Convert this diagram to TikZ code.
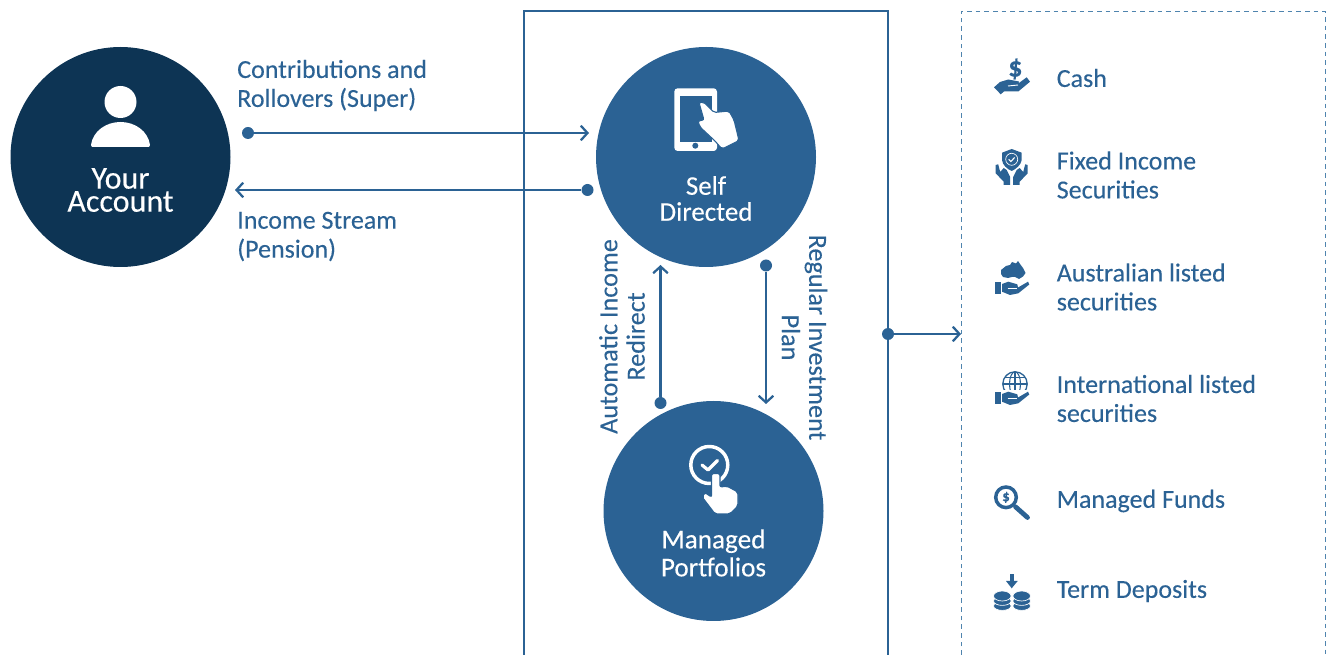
\documentclass[tikz,border=0pt]{standalone}
\usepackage{fontspec}
\setmainfont{Carlito}[FakeBold=0.25]
\usetikzlibrary{arrows.meta}
\definecolor{navy}{HTML}{0D3454}
\definecolor{steel}{HTML}{2B6294}
\definecolor{dashgrey}{HTML}{4F84AE}
\tikzstyle{bigcirc}=[circle,inner sep=0pt,minimum size=165pt]
\tikzstyle{dot}=[circle,fill=steel,inner sep=0pt,minimum size=9pt]
\tikzstyle{link}=[steel,line width=1.7pt,-{Straight Barb[length=5pt,width=11pt,line width=1.7pt]}]
\tikzstyle{sidetext}=[steel,align=left,anchor=west,inner sep=0pt,font=\fontsize{19.5}{21.7}\selectfont]
\tikzstyle{turntext}=[steel,align=center,inner sep=0pt,font=\fontsize{19.6}{20.5}\selectfont]
\tikzstyle{incircle}=[white,align=center,inner sep=0pt,font=\fontsize{20.2}{19.5}\selectfont]
\tikzstyle{iconfill}=[fill=steel]
\newcommand{\giveHand}[1]{
	\fill[iconfill,shift={(0,#1)}] (995,281.7) rectangle (1000.7,294.3);
	\fill[iconfill,shift={(0,#1)}] (1002,284) -- (1008.3,281.7) -- (1017.3,284.3) -- (1018,287.5) -- (1028,281.7) -- (1029.3,284.5) -- (1018.3,293.3) -- (1010,295) -- (1002,291.7) -- cycle;
	\draw[white,line width=.7pt,shift={(0,#1)}] (1007.5,288.2) -- (1017,288.2);
}
\begin{document}
\begin{tikzpicture}[x=.75pt,y=-.75pt]
	\useasboundingbox (0,0) rectangle (1332,655);
	% frames
	\draw[steel,line width=1.9pt] (524,655) -- (524,11) -- (888,11) -- (888,655);
	\draw[dashgrey,line width=.7pt,dash pattern=on 3.5pt off 3pt] (961,655) -- (961,11) -- (1325,11) -- (1325,655);
	\coordinate (listedge) at (961,334);
	% the three circles
	\node[bigcirc,fill=navy] (account) at (120.5,157) {};
	\node[bigcirc,fill=steel] (selfdir) at (706,157) {};
	\node[bigcirc,fill=steel] (managed) at (713.5,511) {};
	\node[incircle,font=\fontsize{24}{17.3}\selectfont] (accountlab) at (120.5,190) {Your\\Account};
	\node[incircle] (selflab) at (706,198.5) {Self\\Directed};
	\node[incircle,font=\fontsize{20.4}{21}\selectfont] (managedlab) at (713.5,553) {Managed\\Portfolios};
	% connectors
	\node[dot] (conta) at (248,133) {};
	\coordinate (contb) at (589,133);
	\node[dot] (inca) at (587.5,190) {};
	\coordinate (incb) at (235,190);
	\node[dot] (autoa) at (660.5,403) {};
	\coordinate (autob) at (660.5,265);
	\node[dot] (rega) at (766,265.5) {};
	\coordinate (regb) at (766,404);
	\node[dot] (framedot) at (888,334) {};
	\draw[link] (conta) -- (contb);
	\draw[link] (inca) -- (incb);
	\draw[link] (autoa) -- (autob);
	\draw[link] (rega) -- (regb);
	\draw[link] (framedot) -- (listedge);
	% labels
	\node[sidetext] (contlab) at (237,85.5) {Contributions and\\Rollovers (Super)};
	\node[sidetext] (inclab) at (237,236.5) {Income Stream\\(Pension)};
	\node[turntext,rotate=90] (autolab) at (622,336.5) {Automatic Income\\Redirect};
	\node[turntext,rotate=-90] (reglab) at (804.5,337.5) {Regular Investment\\Plan};
	\node[sidetext] (cashlab) at (1056.5,78) {Cash};
	\node[sidetext] (fixedlab) at (1056.5,175) {Fixed Income\\Securities};
	\node[sidetext] (auslab) at (1056.5,287) {Australian listed\\securities};
	\node[sidetext] (intlab) at (1056.5,398.5) {International listed\\securities};
	\node[sidetext] (fundslab) at (1056.5,501) {Managed Funds};
	\node[sidetext] (termlab) at (1056.5,591) {Term Deposits};
	% person
	\fill[white] (120.5,102) circle (16);
	\fill[white] (91,145) .. controls (93,131) and (106,122) .. (120.5,122) .. controls (135,122) and (148,131) .. (150,145) .. controls (150,146.5) and (149,147) .. (148,147) -- (93,147) .. controls (92,147) and (91,146.5) .. (91,145) -- cycle;
	% tablet
	\fill[white,rounded corners=2.5pt] (674.3,88.3) rectangle (717,151);
	\fill[steel] (679.5,96) rectangle (712,142.5);
	\fill[steel] (695.3,145.7) circle (3);
	\draw[steel,line width=.8pt,fill=white,rounded corners=1.5pt] (699,102.5) -- (703.5,102) -- (714,112.5) -- (729,111) -- (734,120) -- (739,140.5) -- (722,149) -- (715,141) -- (700,127) -- (698,121) -- (704,120) -- cycle;
	% pointing hand and ring
	\draw[white,line width=2.6pt] (709.3,465) circle (18.5);
	\draw[white,line width=2.4pt,line cap=round,line join=round] (702,465) -- (708,470) -- (717.5,460.5);
	\draw[steel,line width=1pt,fill=white,rounded corners=1.5pt] (711.5,473.5) -- (720,473.5) -- (720,487) -- (727,486) -- (738,492) -- (738,506) -- (730,514) -- (715,514) -- (702,497) -- (705,492.5) -- (711.5,497) -- cycle;
	% cash icon
	\node[steel,inner sep=0pt,font=\fontsize{21}{21}\bfseries\selectfont] (cashsign) at (1015.3,69) {\$};
	\fill[iconfill] (994,87.3) -- (1000.7,94.3) -- (1004,91.5) -- (1018.3,91.5) -- (1030,81.7) -- (1026.7,77.3) -- (1018.5,83.3) -- (1019,81.5) -- (1008.3,79.5) -- (1000,82) -- cycle;
	\draw[white,line width=.7pt] (1008,86) -- (1018,85);
	% shield icon
	\fill[iconfill] (1002,152.7) -- (1011.7,149) -- (1021.7,152.7) -- (1021.7,160) .. controls (1021,165) and (1016,169) .. (1011.7,171) .. controls (1007,169) and (1002.5,165) .. (1002,160) -- cycle;
	\draw[white,line width=.5pt] (1011.7,159.3) circle (6);
	\draw[white,line width=.8pt] (1008.7,159.3) -- (1010.8,161.5) -- (1014.7,157.5);
	\foreach \sx in {1,-1}{
		\fill[iconfill,shift={(1011.7,0)},xscale=\sx] (-16,165) -- (-13.5,164.3) -- (-11.5,172) -- (-8,168) -- (-5,170) -- (-1.5,177) -- (-1.5,185) -- (-8,185) -- (-8,181.7) -- (-16,173.3) -- cycle;
	}
	% australia icon
	\fill[iconfill] (1001,270) -- (1006,266) -- (1010,265) -- (1012,262) -- (1016,263.5) -- (1018,261) -- (1020,264) -- (1023,268) -- (1025.5,273) -- (1023,276.5) -- (1019,279) -- (1015,277) -- (1012,277) -- (1008,278) -- (1003,277) -- (1001,274) -- cycle;
	\giveHand{0}
	% globe icon
	\begin{scope}
		\clip (1000,370) rectangle (1030,390);
		\draw[steel,line width=1pt] (1015,384) circle (12.2);
		\draw[steel,line width=.8pt] (1015,384) ellipse (5.5 and 12.2);
		\draw[steel,line width=.8pt] (1015,371.8) -- (1015,396) (1003,384) -- (1027,384) (1005,377.5) -- (1025,377.5);
	\end{scope}
	\giveHand{110}
	% magnifier icon
	\draw[steel,line width=2.6pt] (1006,497.3) circle (10.3);
	\draw[steel,line width=3.6pt,line cap=round] (1015.5,506.8) -- (1027.5,517.5);
	\node[steel,inner sep=0pt,font=\fontsize{11}{11}\bfseries\selectfont] (fundsign) at (1006,497.3) {\$};
	% coins icon
	\fill[iconfill] (1009.7,574.3) rectangle (1013.7,581.7);
	\fill[iconfill] (1006,581) -- (1017.7,581) -- (1011.7,588.3) -- cycle;
	\foreach \cx in {1002.3,1021.7}{
		\foreach \cy in {606,601}{
			\filldraw[fill=steel,draw=white,line width=.5pt] (\cx,\cy) ellipse (8.8 and 4.4);
		}
		\filldraw[fill=steel,draw=white,line width=.5pt] (\cx,596) ellipse (8.8 and 5);
	}
\end{tikzpicture}
\end{document}
